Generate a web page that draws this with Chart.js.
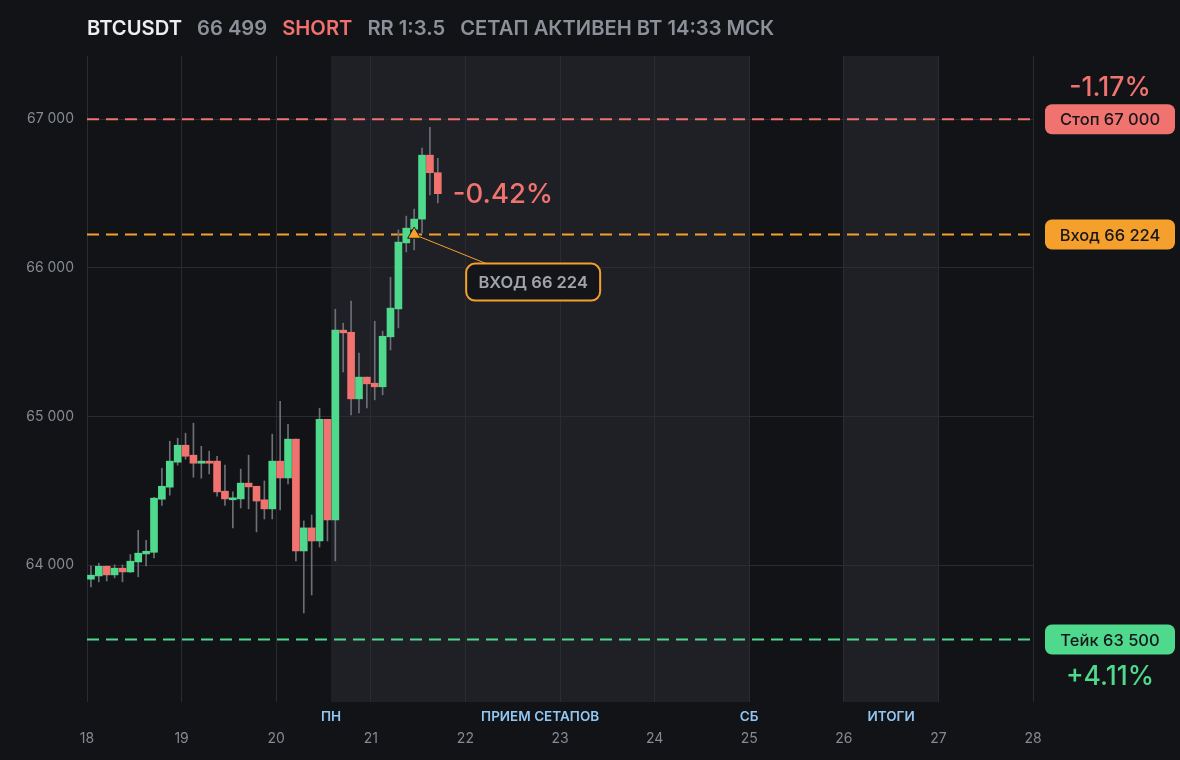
<!DOCTYPE html>
<html>
<head>
<meta charset="utf-8">
<script src="https://cdn.jsdelivr.net/npm/chart.js@4.4.1/dist/chart.umd.min.js"></script>
<style>
  html, body { margin: 0; padding: 0; background: #121317; }
  #wrap { position: relative; width: 1180px; height: 760px; }
  #hdr { position: absolute; left: 87px; top: 15px; font-family: Inter, "Noto Sans", sans-serif; font-weight: 600; font-size: 20.2px; white-space: nowrap; }
  #hdr span { margin-right: 15px; }
  canvas { display: block; }
</style>
</head>
<body>
<div id="wrap">
  <canvas id="c" width="1180" height="760"></canvas>
  <div id="hdr">
    <span style="color:#eceef1">BTCUSDT</span><span style="color:#8c9098">66 499</span><span style="color:#f0716e">SHORT</span><span style="color:#8c9098">RR 1:3.5</span><span style="color:#8c9098">СЕТАП АКТИВЕН ВТ 14:33 МСК</span>
  </div>
</div>
<script>
// ---- data ----
const candleStartDay = 18;        // first candle day
const candlesPerDay = 12;         // 2-hour candles
const opens  = [63906,63928,63993,63935,63980,63955,64022,64076,64087,64444,64525,64693,64807,64740,64686,64700,64700,64498,64440,64446,64552,64531,64440,64379,64700,64587,64848,64096,64251,64163,64982,64305,65581,65567,65119,65265,65224,65200,65536,65724,66168,66260,66328,66758,66640];
const highs  = [63995,64013,63995,64002,64002,64072,64235,64168,64457,64652,64834,64854,64888,64955,64800,64767,64733,64673,64493,64646,64740,64531,64567,64881,65103,64948,64848,64298,64338,65056,64982,65722,65628,65776,65426,65265,65641,65574,65937,66255,66348,66395,66805,66946,66737];
const lows   = [63854,63888,63894,63915,63888,63950,63922,63995,64049,64403,64471,64673,64713,64592,64585,64614,64464,64403,64251,64385,64379,64224,64311,64311,64372,64547,64029,63679,63800,64123,64163,64029,65300,65011,65025,65058,65112,65146,65448,65596,66107,66120,66235,66490,66437];
const closes = [63933,63993,63935,63980,63955,64027,64081,64094,64451,64531,64700,64807,64733,64686,64700,64686,64493,64446,64453,64552,64527,64432,64379,64700,64587,64848,64096,64251,64163,64982,64305,65581,65563,65119,65265,65220,65200,65540,65729,66173,66267,66328,66758,66640,66499];

const dayTicks = [18,19,20,21,22,23,24,25,26,27,28];
const priceTicks = [64000,65000,66000,67000];
const shadeRanges = [[20.58,25],[26,27]];
const sessionLabels = [[20.58,'ПН'],[22.79,'ПРИЕМ СЕТАПОВ'],[25,'СБ'],[26.5,'ИТОГИ']];

const stopPrice = 67000, entryPrice = 66224, takePrice = 63500;
const entryCandleIndex = 41;      // 0-based
const stopPct = '-1.17%', takePct = '+4.11%', livePct = '-0.42%';
const levelLabels = [['Стоп 67 000', stopPrice], ['Вход 66 224', entryPrice], ['Тейк 63 500', takePrice]];
const entryNote = 'ВХОД 66 224';

// ---- colors ----
const UP = '#4fd98c', DOWN = '#f1736f', ORANGE = '#f59f2c', WICK = '#6c6f76';
const GRID = '#2a2c31', SHADE = '#1f2025', BG = '#121317';

const t = i => candleStartDay + (i + 0.5) / candlesPerDay;
const bodies = opens.map((o, i) => ({ x: t(i), y: [o, closes[i]] }));
const wicks = highs.map((h, i) => ({ x: t(i), y: [lows[i], h] }));
const bodyColors = opens.map((o, i) => closes[i] >= o ? UP : DOWN);
const fmt = v => String(v).replace(/\B(?=(\d{3})+(?!\d))/g, ' ');
const hline = y => [{ x: dayTicks[0], y }, { x: dayTicks[dayTicks.length - 1], y }];

const FONT = 'Inter, "Noto Sans", sans-serif';

function rr(ctx, x, y, w, h, r) {
  ctx.beginPath();
  ctx.moveTo(x + r, y);
  ctx.arcTo(x + w, y, x + w, y + h, r);
  ctx.arcTo(x + w, y + h, x, y + h, r);
  ctx.arcTo(x, y + h, x, y, r);
  ctx.arcTo(x, y, x + w, y, r);
  ctx.closePath();
}

const shadePlugin = {
  id: 'shade',
  beforeDraw(chart) {
    const { ctx, chartArea: a, scales: { x } } = chart;
    ctx.save();
    ctx.fillStyle = BG;
    ctx.fillRect(0, 0, chart.width, chart.height);
    ctx.fillStyle = SHADE;
    shadeRanges.forEach(([s, e]) => {
      const x0 = x.getPixelForValue(s), x1 = x.getPixelForValue(e);
      ctx.fillRect(x0, a.top, x1 - x0, a.bottom - a.top);
    });
    ctx.restore();
  }
};

const overlayPlugin = {
  id: 'overlay',
  afterDraw(chart) {
    const { ctx, chartArea: a, scales: { x, y } } = chart;
    ctx.save();
    // session labels
    ctx.font = '600 13.5px ' + FONT;
    ctx.fillStyle = '#92c7f4';
    ctx.textAlign = 'center';
    ctx.textBaseline = 'middle';
    sessionLabels.forEach(([v, s]) => ctx.fillText(s, x.getPixelForValue(v), a.bottom + 15));

    // right level pills
    const colors = [DOWN, ORANGE, UP];
    const px = a.right + 12, pw = 130, ph = 30;
    levelLabels.forEach(([s, v], i) => {
      const py = y.getPixelForValue(v);
      ctx.fillStyle = colors[i];
      rr(ctx, px, py - ph / 2, pw, ph, 7);
      ctx.fill();
      ctx.fillStyle = '#16171a';
      ctx.font = '500 16.5px ' + FONT;
      ctx.fillText(s, px + pw / 2, py + 1);
    });
    ctx.font = '500 26.5px ' + FONT;
    ctx.fillStyle = DOWN;
    ctx.fillText(stopPct, px + pw / 2, y.getPixelForValue(stopPrice) - 31);
    ctx.fillStyle = UP;
    ctx.fillText(takePct, px + pw / 2, y.getPixelForValue(takePrice) + 37);

    // live pct next to last candle
    const lastX = x.getPixelForValue(t(closes.length - 1));
    ctx.fillStyle = DOWN;
    ctx.textAlign = 'left';
    ctx.font = '500 27.5px ' + FONT;
    ctx.fillText(livePct, lastX + 15, y.getPixelForValue(closes[closes.length - 1]) + 1);

    // entry annotation
    const ex = x.getPixelForValue(t(entryCandleIndex)), ey = y.getPixelForValue(entryPrice);
    ctx.strokeStyle = ORANGE;
    ctx.lineWidth = 1;
    ctx.beginPath();
    ctx.moveTo(ex + 5, ey + 2);
    ctx.lineTo(ex + 72, ey + 29);
    ctx.stroke();
    const bx = ex + 52, by = ey + 29, bw = 134, bh = 37;
    rr(ctx, bx, by, bw, bh, 9);
    ctx.fillStyle = '#141519';
    ctx.fill();
    ctx.lineWidth = 2;
    ctx.stroke();
    ctx.fillStyle = '#a1a4ab';
    ctx.font = '600 16.5px ' + FONT;
    ctx.textAlign = 'center';
    ctx.fillText(entryNote, bx + bw / 2, by + bh / 2 + 1);
    ctx.restore();
  }
};

new Chart(document.getElementById('c'), {
  type: 'bar',
  data: {
    datasets: [
      { type: 'scatter', data: [{ x: t(entryCandleIndex), y: entryPrice }], pointStyle: 'triangle', pointRadius: 7.5,
        backgroundColor: ORANGE, borderColor: '#1b1b1b', borderWidth: 1, order: 0 },
      { data: bodies, backgroundColor: bodyColors, barThickness: 7, minBarLength: 2, grouped: false, borderWidth: 0, order: 1 },
      { data: wicks, backgroundColor: WICK, barThickness: 1, grouped: false, borderWidth: 0, order: 2 },
      { type: 'line', data: hline(stopPrice), borderColor: DOWN, borderWidth: 2, borderDash: [12, 7], pointRadius: 0, order: 3 },
      { type: 'line', data: hline(entryPrice), borderColor: ORANGE, borderWidth: 2, borderDash: [12, 7], pointRadius: 0, order: 3 },
      { type: 'line', data: hline(takePrice), borderColor: UP, borderWidth: 2, borderDash: [12, 7], pointRadius: 0, order: 3 }
    ]
  },
  options: {
    responsive: false,
    animation: false,
    events: [],
    layout: { padding: { top: 56, right: 147, left: 0, bottom: 0 } },
    plugins: { legend: { display: false }, tooltip: { enabled: false } },
    scales: {
      x: {
        type: 'linear', min: 18, max: 28, offset: false,
        afterBuildTicks: s => { s.ticks = dayTicks.map(v => ({ value: v })); },
        afterFit: s => { s.height = 58; },
        grid: { color: GRID, drawTicks: false, offset: false },
        border: { display: false },
        ticks: { color: '#868a92', font: { family: FONT, size: 14 }, padding: 28, maxRotation: 0 }
      },
      y: {
        min: 63080, max: 67425,
        afterBuildTicks: s => { s.ticks = priceTicks.map(v => ({ value: v })); },
        afterFit: s => { s.width = 87; },
        grid: { color: GRID, drawTicks: false },
        border: { display: false },
        ticks: { color: '#868a92', font: { family: FONT, size: 14 }, padding: 13, callback: v => fmt(v) }
      }
    }
  },
  plugins: [shadePlugin, overlayPlugin]
});
</script>
</body>
</html>
